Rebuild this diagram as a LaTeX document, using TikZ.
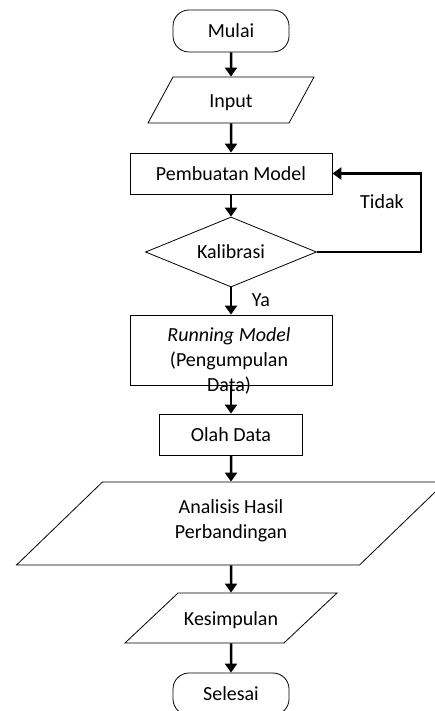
\documentclass[tikz,border=0pt]{standalone}
\usepackage{fontspec}
\setmainfont{Carlito}
\usetikzlibrary{shapes.geometric,arrows.meta}

\begin{document}
\begin{tikzpicture}[font=\fontsize{20}{25}\selectfont, x=1pt, y=-1pt,
  terminal/.style={draw, line width=0.8pt, rounded corners=16pt, minimum width=116pt, minimum height=42pt},
  proses/.style={draw, line width=0.8pt, minimum height=41pt},
  io/.style={draw, line width=0.8pt, trapezium, trapezium stretches body, inner xsep=0pt,
             text height=17pt, text depth=2pt},
  arr/.style={-{Triangle[length=9pt,width=12pt]}, line width=2.5pt}]

\useasboundingbox (0,0) rectangle (435,711);

\node[terminal] (mulai) at (231,31) {Mulai};
\node[io, trapezium left angle=61.5, trapezium right angle=118.5,
      minimum width=166pt, inner ysep=13.5pt] (input) at (231,100) {Input};
\node[proses, minimum width=202pt] (pemb) at (231,173.5) {Pembuatan Model};
\node[draw, line width=0.8pt, diamond, aspect=2.44, inner sep=0pt,
      minimum width=171pt, minimum height=70pt] (kal) at (231,252) {Kalibrasi};

\node[proses, minimum width=202pt, minimum height=70pt] (run) at (231,350) {};
\node[align=center] (runtxt) at (229,361) {\textit{Running Model}\\(Pengumpulan\\Data)};

\node[proses, minimum width=143pt] (olah) at (231,434.5) {Olah Data};
\node[io, trapezium left angle=44, trapezium right angle=136, align=center,
      text height=45pt, text depth=15pt, inner ysep=11.5pt,
      minimum width=429pt] (analisis) at (231,523.5) {Analisis Hasil\\Perbandingan};
\node[io, trapezium left angle=43.3, trapezium right angle=136.7,
      minimum width=212pt, inner ysep=15.5pt] (kes) at (231,618) {Kesimpulan};
\node[terminal] (selesai) at (231,694) {Selesai};

\node (tidak) at (382,202) {Tidak};
\node (ya) at (261,300) {Ya};

\foreach \a/\b in {mulai/input, input/pemb, pemb/kal, kal/run, run/olah,
                   olah/analisis, analisis/kes, kes/selesai}{
\draw[arr] (\a.south) -- (\b.north);
}

\draw[arr] (kal.east) -- ++(104,0) |- (pemb.east);
\end{tikzpicture}
\end{document}
